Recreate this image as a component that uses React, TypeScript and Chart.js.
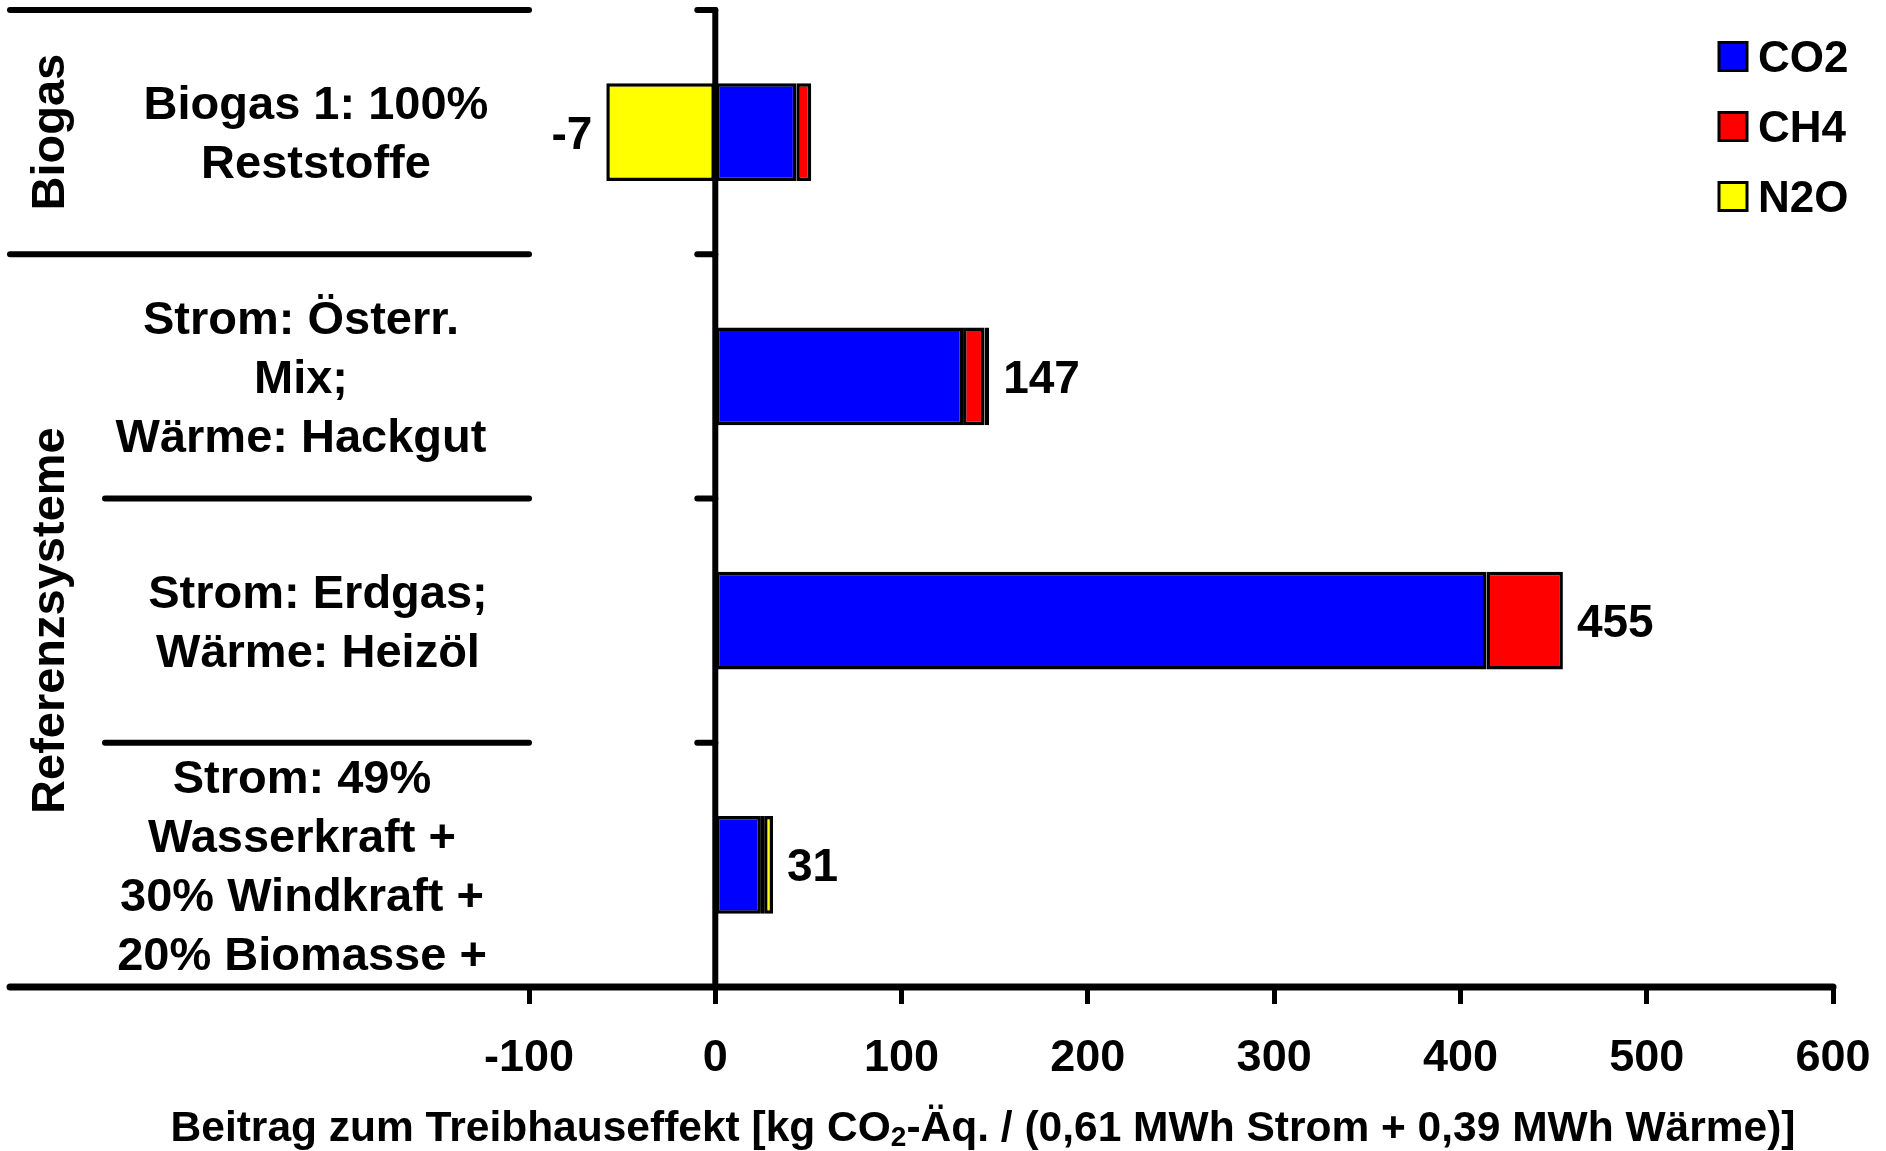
import React, { useEffect, useRef } from 'react';
import { Chart, registerables } from 'chart.js';

Chart.register(...registerables);

// ---------- data ----------
const categories = [
  'Biogas 1: 100% Reststoffe',
  'Strom: Österr. Mix; Wärme: Hackgut',
  'Strom: Erdgas; Wärme: Heizöl',
  'Strom: 49% Wasserkraft + 30% Windkraft + 20% Biomasse +',
];
const categoryLines = [
  ['Biogas 1: 100%', 'Reststoffe'],
  ['Strom: Österr.', 'Mix;', 'Wärme: Hackgut'],
  ['Strom: Erdgas;', 'Wärme: Heizöl'],
  ['Strom: 49%', 'Wasserkraft +', '30% Windkraft +', '20% Biomasse +'],
];
const groupNames = ['Biogas', 'Referenzsysteme'];
const groupSizes = [1, 3];

const seriesNames = ['CO2', 'CH4', 'N2O'];
const seriesColors = ['#0000FF', '#FF0000', '#FFFF00'];
const co2Values = [43.5, 133, 414, 24.5];
const ch4Values = [8, 11.5, 41, 1.7];
const n2oValues = [-58.5, 2.5, 0, 4.8];

const xMin = -100;
const xMax = 600;
const xStep = 100;
const axisTitleMain1 = 'Beitrag zum Treibhauseffekt [kg CO';
const axisTitleSub = '2';
const axisTitleMain2 = '-Äq. / (0,61 MWh Strom + 0,39 MWh Wärme)]';

// ---------- layout constants ----------
const W = 1886;
const H = 1151;
const FONT = "'Liberation Sans', Arial, Helvetica, sans-serif";
const labelCenterX = [316, 301, 318, 302];

const overlayPlugin = {
  id: 'overlay',
  afterDatasetsDraw(chart: any) {
    const ctx: CanvasRenderingContext2D = chart.ctx;
    const xs = chart.scales.x;
    const ys = chart.scales.y;
    const area = chart.chartArea;
    const x0 = xs.getPixelForValue(0);
    const n = categories.length;
    const centers = categories.map((_, i) => ys.getPixelForValue(i));
    const half = (centers[1] - centers[0]) / 2;
    const bounds = [centers[0] - half, ...centers.map((c) => c + half)];

    const line = (x1: number, y1: number, x2: number, y2: number) => {
      ctx.beginPath();
      ctx.moveTo(x1, y1);
      ctx.lineTo(x2, y2);
      ctx.stroke();
    };

    ctx.save();
    ctx.strokeStyle = '#000';
    ctx.lineCap = 'round';

    // vertical axis at x = 0
    ctx.lineWidth = 6;
    line(x0, area.top, x0, area.bottom);
    for (let i = 0; i < n; i++) line(x0 - 18, bounds[i], x0, bounds[i]);

    // group starts
    const groupStarts: number[] = [];
    let acc = 0;
    groupSizes.forEach((s) => {
      groupStarts.push(acc);
      acc += s;
    });

    // separators in label area
    for (let i = 0; i < n; i++) {
      const left = groupStarts.includes(i) ? 10 : 105;
      line(left, bounds[i], area.left, bounds[i]);
    }

    // bottom axis line
    ctx.lineWidth = 7;
    line(10, area.bottom, area.right, area.bottom);

    ctx.fillStyle = '#000';

    // category labels
    const catSize = 47;
    ctx.font = `bold ${catSize}px ${FONT}`;
    ctx.textAlign = 'center';
    ctx.textBaseline = 'alphabetic';
    const lh = 59;
    categoryLines.forEach((lines, i) => {
      const k = lines.length;
      lines.forEach((t, j) => {
        const cy = centers[i] + (j - (k - 1) / 2) * lh;
        ctx.fillText(t, labelCenterX[i], cy + 0.358 * catSize);
      });
    });

    // group labels (rotated)
    groupNames.forEach((g, gi) => {
      const s = groupStarts[gi];
      const e = s + groupSizes[gi];
      const cy = (bounds[s] + bounds[e]) / 2;
      ctx.save();
      ctx.translate(64, cy);
      ctx.rotate(-Math.PI / 2);
      ctx.textAlign = 'center';
      ctx.fillText(g, 0, 0);
      ctx.restore();
    });

    // value labels
    const valSize = 46;
    ctx.font = `bold ${valSize}px ${FONT}`;
    for (let i = 0; i < n; i++) {
      const vals = [co2Values[i], ch4Values[i], n2oValues[i]];
      const pos = vals.filter((v) => v > 0).reduce((a, b) => a + b, 0);
      const neg = vals.filter((v) => v < 0).reduce((a, b) => a + b, 0);
      const total = Math.round(pos + neg);
      const y = centers[i] + 0.358 * valSize;
      if (total >= 0) {
        ctx.textAlign = 'left';
        ctx.fillText(String(total), xs.getPixelForValue(pos) + 14, y);
      } else {
        ctx.textAlign = 'right';
        ctx.fillText(String(total), xs.getPixelForValue(neg) - 14, y);
      }
    }

    // legend
    const legSize = 44;
    ctx.font = `bold ${legSize}px ${FONT}`;
    ctx.textAlign = 'left';
    seriesNames.forEach((name, k) => {
      const cy = 56.5 + k * 70;
      ctx.fillStyle = seriesColors[k];
      ctx.fillRect(1719, cy - 14, 28, 28);
      ctx.lineWidth = 3;
      ctx.lineCap = 'butt';
      ctx.strokeStyle = '#000';
      ctx.strokeRect(1719, cy - 14, 28, 28);
      ctx.fillStyle = '#000';
      ctx.fillText(name, 1758, cy + 0.358 * legSize);
    });

    // axis title with subscript
    const tSize = 42.5;
    const sSize = 28;
    const mainFont = `bold ${tSize}px ${FONT}`;
    const subFont = `bold ${sSize}px ${FONT}`;
    ctx.font = mainFont;
    const w1 = ctx.measureText(axisTitleMain1).width;
    const w3 = ctx.measureText(axisTitleMain2).width;
    ctx.font = subFont;
    const w2 = ctx.measureText(axisTitleSub).width;
    const total = w1 + w2 + w3;
    let tx = 983 - total / 2;
    const base = 1141;
    ctx.textAlign = 'left';
    ctx.font = mainFont;
    ctx.fillText(axisTitleMain1, tx, base);
    tx += w1;
    ctx.font = subFont;
    ctx.fillText(axisTitleSub, tx, base + 5);
    tx += w2;
    ctx.font = mainFont;
    ctx.fillText(axisTitleMain2, tx, base);

    ctx.restore();
  },
};

export default function App() {
  const ref = useRef<HTMLCanvasElement | null>(null);

  useEffect(() => {
    if (!ref.current) return;
    const data = [co2Values, ch4Values, n2oValues];
    const chart = new Chart(ref.current, {
      type: 'bar',
      data: {
        labels: categories,
        datasets: seriesNames.map((name, k) => ({
          label: name,
          data: data[k],
          backgroundColor: seriesColors[k],
          borderColor: '#000000',
          borderWidth: 3.5,
          borderSkipped: false,
          barPercentage: 0.4,
          categoryPercentage: 1,
        })),
      },
      options: {
        indexAxis: 'y',
        animation: false,
        responsive: false,
        devicePixelRatio: 1,
        layout: { padding: { left: 529, right: 53, top: 10, bottom: 0 } },
        plugins: {
          legend: { display: false },
          tooltip: { enabled: false },
          title: { display: false },
        },
        scales: {
          x: {
            stacked: true,
            min: xMin,
            max: xMax,
            position: 'bottom',
            ticks: {
              stepSize: xStep,
              color: '#000',
              padding: 28,
              font: { family: FONT, size: 45, weight: 'bold' },
            },
            grid: {
              display: true,
              drawOnChartArea: false,
              drawTicks: true,
              tickLength: 17,
              tickWidth: 5,
              tickColor: '#000',
            },
            border: { display: false },
            afterFit: (scale: any) => {
              scale.height = 164;
              scale.paddingLeft = 0;
              scale.paddingRight = 0;
            },
          },
          y: {
            stacked: true,
            display: false,
          },
        },
      },
      plugins: [overlayPlugin],
    } as any);
    return () => chart.destroy();
  }, []);

  return (
    <div style={{ position: 'absolute', left: 0, top: 0, width: W, height: H, background: '#fff' }}>
      <canvas ref={ref} width={W} height={H} style={{ display: 'block', width: W, height: H }} />
    </div>
  );
}
